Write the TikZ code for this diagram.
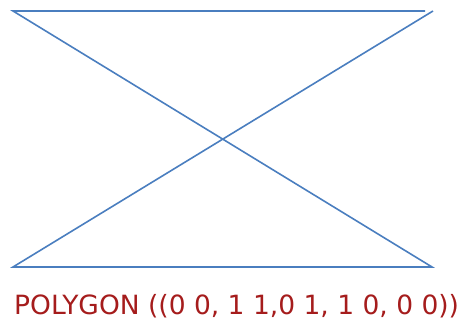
\documentclass[tikz,border=0pt]{standalone}
\usepackage{fontspec}
\setmainfont{DejaVu Sans}
\definecolor{polyblue}{HTML}{4A7EBF}
\definecolor{labelred}{HTML}{A51C1C}
\begin{document}
\begin{tikzpicture}[x=1pt,y=1pt,
  edge/.style={draw=polyblue,line width=1.6pt,line join=miter},
  caption/.style={text=labelred,font=\fontsize{26.5}{30}\selectfont,inner sep=0pt,anchor=base west}]
\useasboundingbox (0,0) rectangle (464,320);
\coordinate (tl) at (13,309);
\coordinate (tr) at (425,309);
\coordinate (tr2) at (433,309);
\coordinate (bl) at (13,53);
\coordinate (br) at (432,53);
\draw[edge] (tr) -- (tl) -- (br) -- (bl) -- (tr2);
\node[caption] (lbl) at (14,5) {POLYGON ((0 0, 1 1,0 1, 1 0, 0 0))};
\end{tikzpicture}
\end{document}
